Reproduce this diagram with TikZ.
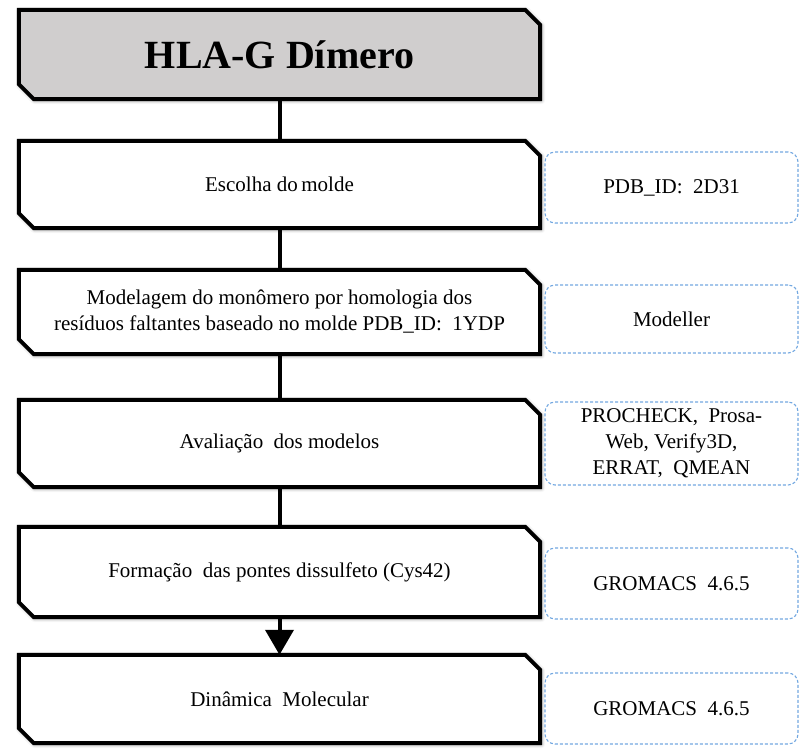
\documentclass[tikz,border=0pt]{standalone}
\usepackage{fontspec}
\setmainfont{Liberation Serif}
\usetikzlibrary{arrows.meta,shadows.blur,backgrounds}
\definecolor{dashblue}{RGB}{115,168,225}
\definecolor{titlegray}{RGB}{208,206,206}
\newcommand\chamfbox[2][white]{%
  \draw[line width=4pt, fill=#1, blur shadow={shadow xshift=1pt, shadow yshift=-1pt, shadow blur radius=4pt, shadow opacity=55}]
    (#2.north west) -- ([xshift=-15pt]#2.north east) -- ([yshift=-15pt]#2.north east)
    -- (#2.south east) -- ([xshift=15pt]#2.south west) -- ([yshift=15pt]#2.south west) -- cycle;}
\begin{document}
\begin{tikzpicture}[x=1pt,y=-1pt,
  stepnode/.style={minimum width=521pt, inner sep=0pt, align=center,
    font=\fontsize{21}{26}\selectfont},
  toolnode/.style={draw=dashblue, dash pattern=on 3pt off 2pt, line width=1.1pt,
    rounded corners=10pt, minimum width=253pt, inner sep=0pt, align=center,
    font=\fontsize{21}{26}\selectfont},
  conn/.style={line width=4pt}]
\useasboundingbox (0,0) rectangle (800,748);
% step nodes
\node[stepnode, minimum height=89pt, font=\fontsize{40}{48}\selectfont\bfseries] (b1) at (279.5,54.5) {HLA-G Dímero};
\node[stepnode, minimum height=87pt] (b2) at (279.5,184.5) {Escolha do\,molde};
\node[stepnode, minimum height=84pt] (b3) at (279.5,312) {Modelagem do monômero por homologia dos\\resíduos faltantes baseado no molde PDB\_ID:\ \ 1YDP};
\node[stepnode, minimum height=87pt] (b4) at (279.5,443.5) {Avaliação\ \ dos modelos};
\node[stepnode, minimum height=90pt] (b5) at (279.5,572) {Formação\ \ das pontes dissulfeto (Cys42)};
\node[stepnode, minimum height=88pt] (b6) at (279.5,699) {Dinâmica\ \ Molecular};
% tool nodes
\node[toolnode, minimum height=71pt] (d1) at (671.5,187.5) {PDB\_ID:\ \ 2D31};
\node[toolnode, minimum height=68pt] (d2) at (671.5,319) {Modeller};
\node[toolnode, minimum height=83pt] (d3) at (671.5,443.5) {PROCHECK,\ \ Prosa-\\Web, Verify3D,\\ERRAT,\ \ QMEAN};
\node[toolnode, minimum height=71pt] (d4) at (671.5,583.5) {GROMACS\ \ 4.6.5};
\node[toolnode, minimum height=71pt] (d5) at (671.5,708.5) {GROMACS\ \ 4.6.5};
% box outlines
\begin{scope}[on background layer]
\chamfbox[titlegray]{b1}
\chamfbox{b2}
\chamfbox{b3}
\chamfbox{b4}
\chamfbox{b5}
\chamfbox{b6}
\end{scope}
% connectors
\draw[conn] (b1) -- (b2);
\draw[conn] (b2) -- (b3);
\draw[conn] (b3) -- (b4);
\draw[conn] (b4) -- (b5);
\draw[conn, -{Triangle[width=28pt,length=25pt]}] (b5) -- (b6);
\end{tikzpicture}
\end{document}
